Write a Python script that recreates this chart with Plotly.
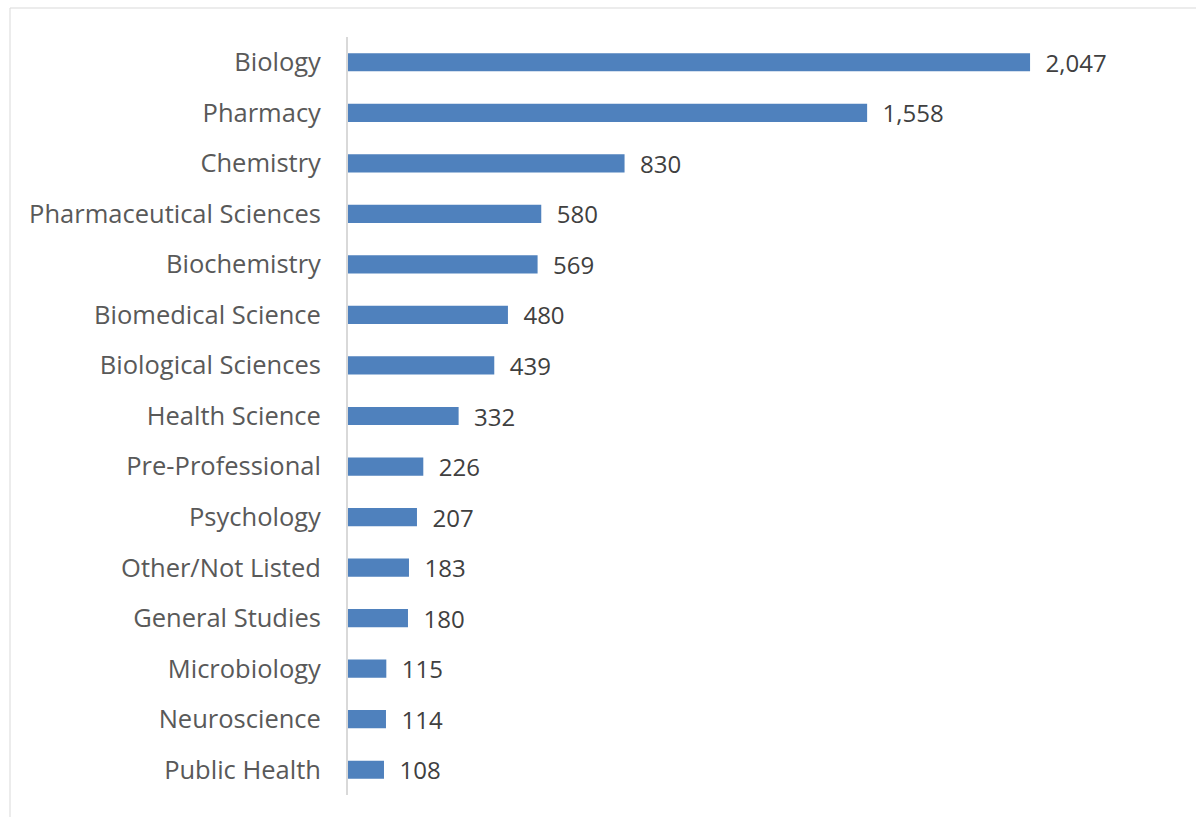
import plotly.graph_objects as go

categories = ["Biology", "Pharmacy", "Chemistry", "Pharmaceutical Sciences", "Biochemistry",
              "Biomedical Science", "Biological Sciences", "Health Science", "Pre-Professional",
              "Psychology", "Other/Not Listed", "General Studies", "Microbiology",
              "Neuroscience", "Public Health"]
values = [2047, 1558, 830, 580, 569, 480, 439, 332, 226, 207, 183, 180, 115, 114, 108]

W, H = 1196, 817
L, R, T, B = 348, 15, 37, 22
pw, ph = W - L - R, H - T - B

fig = go.Figure(go.Bar(
    x=values, y=categories, orientation="h",
    marker=dict(color="#4F81BD", line=dict(width=0)),
    text=values, texttemplate="\u00a0\u00a0%{x:,}", textposition="outside",
    constraintext="none",
    textfont=dict(family="Open Sans", size=24, color="#404040"),
    cliponaxis=False,
))

def px_x(p):
    return (p - L) / pw

def px_y(p):
    return (H - B - p) / ph

fig.update_layout(
    width=W, height=H,
    margin=dict(l=L, r=R, t=T, b=B),
    paper_bgcolor="white", plot_bgcolor="white",
    bargap=0.64,
    showlegend=False,
    font=dict(family="Open Sans", size=25.5, color="#595959"),
    xaxis=dict(range=[0, 2500], visible=False, showgrid=False, zeroline=False),
    yaxis=dict(autorange="reversed", showgrid=False, zeroline=False,
               showline=True, linecolor="#D9D9D9", linewidth=2,
               ticks="", ticklabelstandoff=20,
               tickfont=dict(family="Open Sans", size=25.5, color="#595959")),
    shapes=[dict(type="rect", xref="paper", yref="paper",
                 x0=px_x(10), x1=px_x(1300), y0=px_y(900), y1=px_y(8),
                 line=dict(color="#D9D9D9", width=1), layer="below")],
)

fig.write_html("out.html", config={"displayModeBar": False},
               post_script="document.body.style.margin='0';document.body.style.overflow='hidden';")
